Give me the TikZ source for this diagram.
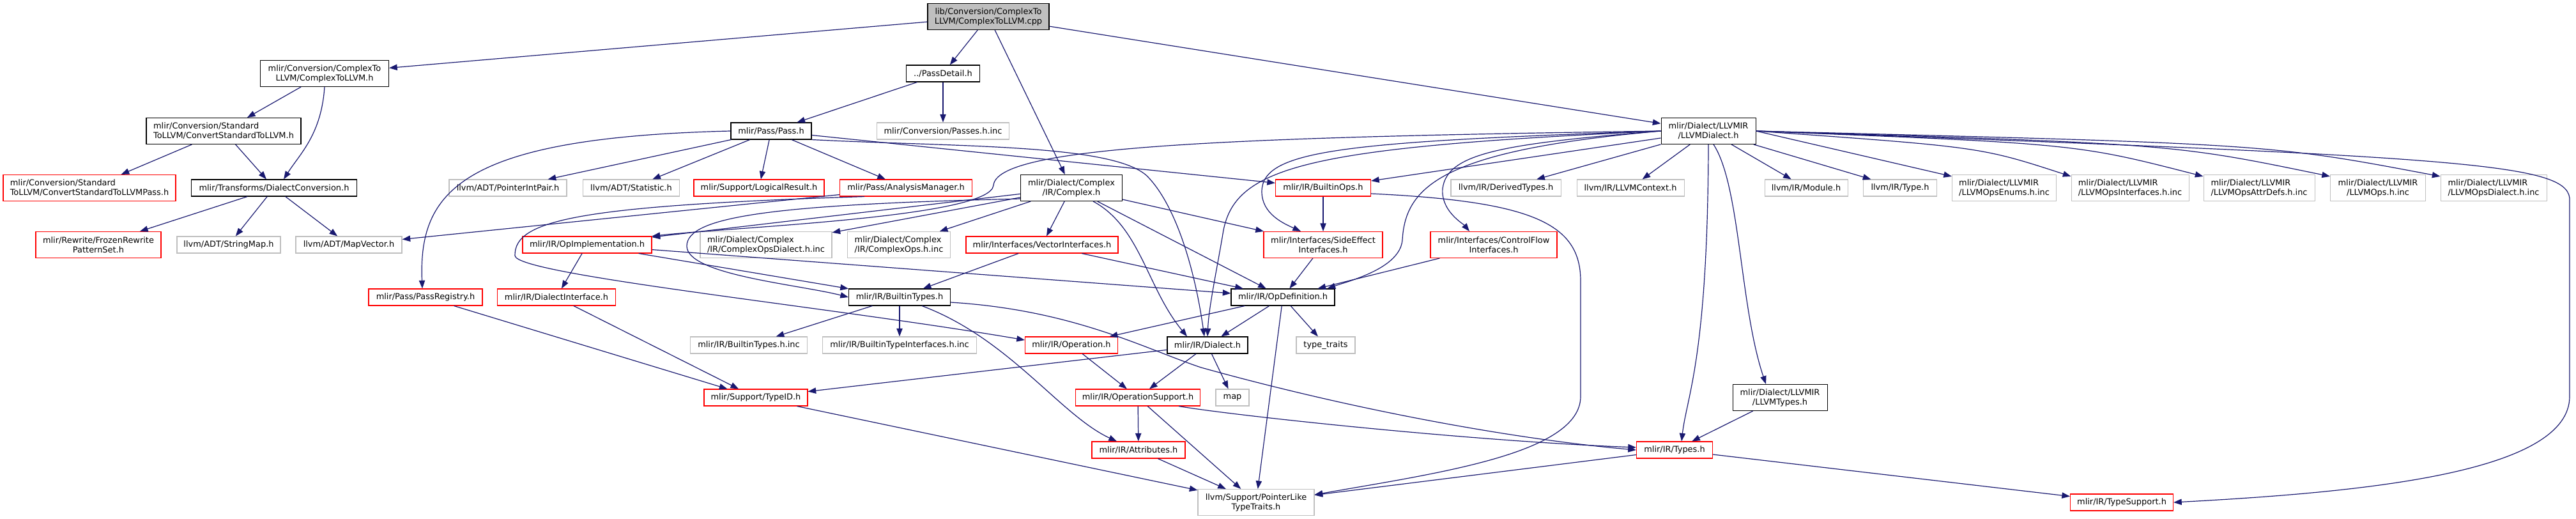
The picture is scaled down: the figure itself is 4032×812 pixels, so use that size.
\documentclass[tikz,border=0pt]{standalone}
\usepackage{fontspec}
\setmainfont{DejaVu Sans}
\usepackage{tikz}
\usetikzlibrary{arrows.meta,calc}
\definecolor{edgeblue}{RGB}{25,25,112}
\definecolor{boxred}{RGB}{255,0,0}
\definecolor{boxgray}{RGB}{191,191,191}
\tikzset{
  dep/.style={-{Triangle[length=9.5pt,width=7pt]},draw=edgeblue,line width=.9pt},
  file/.style={draw=black,fill=white,line width=.8pt,inner sep=0pt,
               minimum height=19.5pt,align=center},
  twoline/.style={minimum height=30.75pt},
  redfile/.style={file,draw=boxred},
  grayfile/.style={file,draw=boxgray},
  rootfile/.style={file,fill=boxgray},
  wd/.style={minimum width=#1*0.75pt}
}
\begin{document}
\begin{tikzpicture}[x=0.75pt,y=-0.75pt,font=\fontsize{9.7}{11.25}\selectfont]
  \useasboundingbox (0,0) rectangle (4032,812);
  \node[rootfile,twoline,wd=190] (cpp) at (1547,26) {lib/Conversion/ComplexTo\\LLVM/ComplexToLLVM.cpp};
  \node[file,twoline,wd=201] (c2l) at (508,115) {mlir/Conversion/ComplexTo\\LLVM/ComplexToLLVM.h};
  \node[file,wd=115] (pdetail) at (1476,115) {../PassDetail.h};
  \node[file,twoline,wd=242,align=left] (cstd) at (350,205) {mlir/Conversion/Standard\\ToLLVM/ConvertStandardToLLVM.h};
  \node[file,wd=126] (pass) at (1207,205) {mlir/Pass/Pass.h};
  \node[grayfile,wd=207] (passesinc) at (1476,205) {mlir/Conversion/Passes.h.inc};
  \node[file,twoline,wd=148] (llvmdialect) at (2674,205) {mlir/Dialect/LLVMIR\\/LLVMDialect.h};
  \node[redfile,twoline,wd=270,align=left] (cstdpass) at (140,294) {mlir/Conversion/Standard\\ToLLVM/ConvertStandardToLLVMPass.h};
  \node[file,wd=259] (dconv) at (429,294) {mlir/Transforms/DialectConversion.h};
  \node[grayfile,wd=184] (pip) at (795,294) {llvm/ADT/PointerIntPair.h};
  \node[grayfile,wd=151] (stat) at (988,294) {llvm/ADT/Statistic.h};
  \node[redfile,wd=204] (logres) at (1188,294) {mlir/Support/LogicalResult.h};
  \node[redfile,wd=207] (anman) at (1418,294) {mlir/Pass/AnalysisManager.h};
  \node[file,twoline,wd=159] (complex) at (1677,294) {mlir/Dialect/Complex\\/IR/Complex.h};
  \node[redfile,wd=149] (builtinops) at (2071,294) {mlir/IR/BuiltinOps.h};
  \node[grayfile,wd=172] (derived) at (2357,294) {llvm/IR/DerivedTypes.h};
  \node[grayfile,wd=168] (llvmctx) at (2552,294) {llvm/IR/LLVMContext.h};
  \node[grayfile,wd=130] (module) at (2827,294) {llvm/IR/Module.h};
  \node[grayfile,wd=115] (typeh) at (2974,294) {llvm/IR/Type.h};
  \node[grayfile,twoline,wd=163,align=left] (enums) at (3137,294) {mlir/Dialect/LLVMIR\\/LLVMOpsEnums.h.inc};
  \node[grayfile,twoline,wd=184,align=left] (ifaces) at (3334,294) {mlir/Dialect/LLVMIR\\/LLVMOpsInterfaces.h.inc};
  \node[grayfile,twoline,wd=174,align=left] (attrdefs) at (3536,294) {mlir/Dialect/LLVMIR\\/LLVMOpsAttrDefs.h.inc};
  \node[grayfile,twoline,wd=149] (opsinc) at (3722,294) {mlir/Dialect/LLVMIR\\/LLVMOps.h.inc};
  \node[grayfile,twoline,wd=166,align=left] (opsdialect) at (3903,294) {mlir/Dialect/LLVMIR\\/LLVMOpsDialect.h.inc};
  \node[redfile,twoline,wd=196] (frozen) at (154,383) {mlir/Rewrite/FrozenRewrite\\PatternSet.h};
  \node[grayfile,wd=162] (strmap) at (358,383) {llvm/ADT/StringMap.h};
  \node[grayfile,wd=166] (mapvec) at (546,383) {llvm/ADT/MapVector.h};
  \node[redfile,wd=202] (opimpl) at (919,383) {mlir/IR/OpImplementation.h};
  \node[grayfile,twoline,wd=206,align=left] (cxopsdialect) at (1199,383) {mlir/Dialect/Complex\\/IR/ComplexOpsDialect.h.inc};
  \node[grayfile,twoline,wd=161,align=left] (cxops) at (1407,383) {mlir/Dialect/Complex\\/IR/ComplexOps.h.inc};
  \node[redfile,wd=238] (vecif) at (1631,383) {mlir/Interfaces/VectorInterfaces.h};
  \node[redfile,twoline,wd=186] (sideeff) at (2071,383) {mlir/Interfaces/SideEffect\\Interfaces.h};
  \node[redfile,twoline,wd=198] (ctrlflow) at (2338,383) {mlir/Interfaces/ControlFlow\\Interfaces.h};
  \node[redfile,wd=178] (passreg) at (666,465) {mlir/Pass/PassRegistry.h};
  \node[redfile,wd=185] (dialectif) at (871,465) {mlir/IR/DialectInterface.h};
  \node[file,wd=159] (builtintypes) at (1408,465) {mlir/IR/BuiltinTypes.h};
  \node[file,wd=162] (opdef) at (2008,465) {mlir/IR/OpDefinition.h};
  \node[grayfile,wd=183] (btinc) at (1172,540) {mlir/IR/BuiltinTypes.h.inc};
  \node[grayfile,wd=241] (btifinc) at (1408,540) {mlir/IR/BuiltinTypeInterfaces.h.inc};
  \node[redfile,wd=145] (operation) at (1677,540) {mlir/IR/Operation.h};
  \node[file,wd=126] (dialect) at (1890,540) {mlir/IR/Dialect.h};
  \node[grayfile,wd=92] (typetraits) at (2075,540) {type\_traits};
  \node[redfile,wd=162] (typeid) at (1183,622) {mlir/Support/TypeID.h};
  \node[redfile,wd=195] (opsupport) at (1781,622) {mlir/IR/OperationSupport.h};
  \node[grayfile,wd=52] (map) at (1929,622) {map};
  \node[file,twoline,wd=148] (llvmtypes) at (2786,622) {mlir/Dialect/LLVMIR\\/LLVMTypes.h};
  \node[redfile,wd=146] (attrs) at (1782,704) {mlir/IR/Attributes.h};
  \node[redfile,wd=119] (types) at (2621,704) {mlir/IR/Types.h};
  \node[grayfile,twoline,wd=182] (ptrlike) at (1966,786) {llvm/Support/PointerLike\\TypeTraits.h};
  \node[redfile,wd=161] (typesupport) at (3321,786) {mlir/IR/TypeSupport.h};

  \draw[dep] (cpp)--(c2l); \draw[dep] (cpp)--(pdetail);
  \draw[dep] (cpp)--(complex); \draw[dep] (cpp)--(llvmdialect);
  \draw[dep] (c2l)--(cstd);
  \draw[dep] (c2l.south) .. controls (503,210) and (470,240) .. ($(dconv.north)+(15,0)$);
  \draw[dep] (cstd)--(cstdpass); \draw[dep] (cstd)--(dconv);
  \draw[dep] (dconv)--(frozen); \draw[dep] (dconv)--(strmap); \draw[dep] (dconv)--(mapvec);
  \draw[dep] (pdetail)--(pass); \draw[dep] (pdetail)--(passesinc);
  \draw[dep] (pass.west) .. controls (720,215) and (655,300) .. ($(passreg.north)-(5,0)$);
  \draw[dep] (pass)--(pip); \draw[dep] (pass)--(stat);
  \draw[dep] (pass)--(logres); \draw[dep] (pass)--(anman);
  \draw[dep] (pass)--(builtinops);
  \draw[dep] (pass.south east) .. controls (1500,230) and (1740,225) .. (1795,275)
    .. controls (1840,320) and (1870,420) .. ($(dialect.north)-(5,0)$);
  \draw[dep] (anman)--(mapvec);
  \draw[dep] ($(anman.south west)+(39,0)$) .. controls (900,322) and (805,345) .. (806,400)
    .. controls (808,430) and (1300,480) .. ($(operation.west)+(0,-8)$);
  \draw[dep] (complex)--(opimpl); \draw[dep] (complex)--(cxopsdialect);
  \draw[dep] (complex)--(cxops); \draw[dep] (complex)--(vecif);
  \draw[dep] (complex)--(sideeff); \draw[dep] (complex)--(opdef);
  \draw[dep] ($(complex.south west)+(0,-4)$) .. controls (1200,320) and (1075,340) .. (1075,385)
    .. controls (1075,430) and (1250,445) .. (builtintypes.west);
  \draw[dep] ($(complex.south)+(34,0)$) .. controls (1785,355) and (1795,450) .. ($(dialect.north)-(32,0)$);
  \draw[dep] (llvmdialect)--(builtinops); \draw[dep] (llvmdialect)--(derived);
  \draw[dep] (llvmdialect)--(llvmctx); \draw[dep] (llvmdialect)--(module);
  \draw[dep] (llvmdialect)--(typeh);
  \draw[dep] (llvmdialect.east) -- ($(enums.north west)+(0,3)$);
  \draw[dep] (llvmdialect.east) .. controls (3100,230) .. ($(ifaces.north west)+(0,3)$);
  \draw[dep] (llvmdialect.east) .. controls (3250,225) .. ($(attrdefs.north west)+(0,3)$);
  \draw[dep] (llvmdialect.east) .. controls (3400,225) .. ($(opsinc.north west)+(0,3)$);
  \draw[dep] (llvmdialect.east) .. controls (3550,225) .. ($(opsdialect.north west)+(0,3)$);
  \draw[dep] (llvmdialect.west) .. controls (1900,215) and (1560,230) .. (1555,290)
    .. controls (1550,340) and (1150,355) .. (opimpl.north east);
  \draw[dep] (llvmdialect.west) .. controls (2100,222) and (1975,235) .. (1975,300)
    .. controls (1975,335) and (2010,350) .. ($(sideeff.north)-(35,0)$);
  \draw[dep] (llvmdialect.west) .. controls (2350,225) and (2265,240) .. (2258,295)
    .. controls (2255,330) and (2290,350) .. ($(ctrlflow.north)-(38,0)$);
  \draw[dep] (llvmdialect.west) .. controls (2260,235) and (2200,290) .. (2195,375)
    .. controls (2192,420) and (2110,440) .. ($(opdef.north east)-(12,0)$);
  \draw[dep] (llvmdialect.west) .. controls (2050,230) and (1935,260) .. (1915,360)
    .. controls (1905,420) and (1892,480) .. (dialect.north);
  \draw[dep] ($(llvmdialect.south)+(8,0)$) .. controls (2724,290) and (2723,480) .. ($(llvmtypes.north)-(22,0)$);
  \draw[dep] (llvmdialect.south) .. controls (2673,560) and (2640,620) .. ($(types.north)+(11,0)$);
  \draw[dep] (llvmdialect.east) .. controls (3850,245) and (4015,255) .. (4022,310) -- (4022,620)
    .. controls (4022,740) and (3700,770) .. (typesupport.east);
  \draw[dep] (builtinops)--(sideeff);
  \draw[dep] ($(builtinops.east)+(0,9)$) .. controls (2400,315) and (2474,350) .. (2474,440) -- (2474,620)
    .. controls (2474,710) and (2250,740) .. ($(ptrlike.east)+(0,-12)$);
  \draw[dep] (opimpl)--(dialectif); \draw[dep] (opimpl)--(builtintypes);
  \draw[dep] (opimpl)--(opdef);
  \draw[dep] (vecif)--(builtintypes); \draw[dep] (vecif)--(opdef);
  \draw[dep] (sideeff)--(opdef); \draw[dep] (ctrlflow)--(opdef);
  \draw[dep] (passreg)--(typeid); \draw[dep] (dialectif)--(typeid);
  \draw[dep] (builtintypes)--(btinc); \draw[dep] (builtintypes)--(btifinc);
  \draw[dep] ($(builtintypes.south)+(35,0)$) .. controls (1580,530) and (1660,650) .. ($(attrs.north)-(34,0)$);
  \draw[dep] ($(builtintypes.east)+(0,8)$) .. controls (1680,485) and (1790,545) .. (1880,575)
    .. controls (2150,650) and (2400,690) .. (types.west);
  \draw[dep] (opdef)--(operation); \draw[dep] (opdef)--(dialect);
  \draw[dep] (opdef)--(typetraits); \draw[dep] (opdef)--(ptrlike);
  \draw[dep] (operation)--(opsupport);
  \draw[dep] (dialect)--(opsupport); \draw[dep] (dialect)--(map);
  \draw[dep] (dialect)--(typeid);
  \draw[dep] (typeid)--(ptrlike);
  \draw[dep] (opsupport)--(attrs); \draw[dep] (opsupport)--(ptrlike);
  \draw[dep] ($(opsupport.south)+(64,0)$) .. controls (1930,650) and (2300,690) .. ($(types.west)+(0,-4)$);
  \draw[dep] (attrs)--(ptrlike);
  \draw[dep] (llvmtypes)--(types);
  \draw[dep] (types)--(ptrlike); \draw[dep] (types)--(typesupport);
\end{tikzpicture}
\end{document}
